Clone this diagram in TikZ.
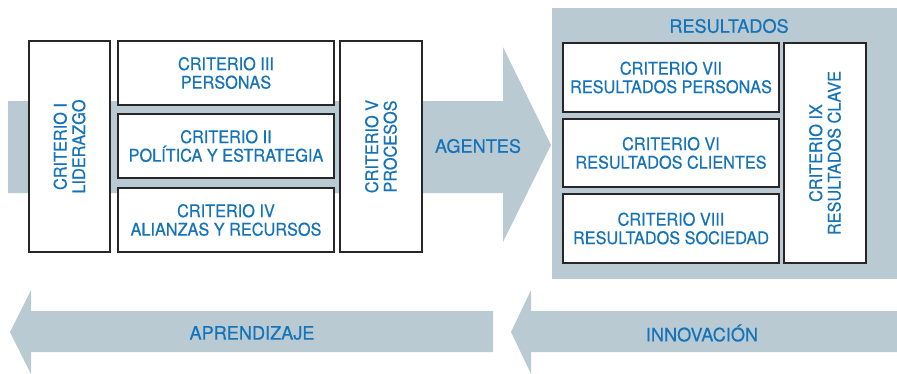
\documentclass[tikz,border=0pt]{standalone}
\usepackage{fontspec}
\setmainfont{TeX Gyre Heros}
\newfontfamily\cajafont[FakeStretch=0.93,FakeBold=0.4]{TeX Gyre Heros}
\newfontfamily\rotulofont[FakeStretch=0.98,FakeBold=0.4]{TeX Gyre Heros}
\definecolor{flecha}{RGB}{185,202,211}
\definecolor{azul}{RGB}{20,115,185}
\definecolor{borde}{RGB}{40,38,40}
\begin{document}
\begin{tikzpicture}[x=1pt,y=-1pt,
  caja/.style={draw=borde,line width=1.5pt,fill=white,text=azul,align=center,inner sep=0pt,font=\cajafont\fontsize{17.5}{18.5}\selectfont},
  rotulo/.style={text=azul,font=\rotulofont\fontsize{18.5}{20}\selectfont}]
\useasboundingbox (0,0) rectangle (897,373);
% flechas y fondo
\fill[flecha] (8,101) -- (503,101) -- (503,47) -- (551,145) -- (503,242) -- (503,193) -- (8,193) -- cycle;
\fill[flecha] (552,8) rectangle (897,279);
\fill[flecha] (493,311) -- (31,311) -- (31,290) -- (10,332) -- (31,374) -- (31,352) -- (493,352) -- cycle;
\fill[flecha] (897,311) -- (531,311) -- (531,290) -- (511,332) -- (531,374) -- (531,352) -- (897,352) -- cycle;
% agentes
\node[caja,rotate=90,minimum width=211,minimum height=81] (c1) at (69.5,146.5) {CRITERIO I\\LIDERAZGO};
\node[caja,minimum width=216,minimum height=64] (c3) at (226,73) {CRITERIO III\\PERSONAS};
\node[caja,minimum width=216,minimum height=64] (c2) at (226,146) {CRITERIO II\\POLÍTICA Y ESTRATEGIA};
\node[caja,minimum width=216,minimum height=64] (c4) at (226,220) {CRITERIO IV\\ALIANZAS Y RECURSOS};
\node[caja,rotate=90,minimum width=211,minimum height=82] (c5) at (381,146.5) {CRITERIO V\\PROCESOS};
% resultados
\node[caja,minimum width=216,minimum height=69] (c7) at (671,77.5) {CRITERIO VII\\RESULTADOS PERSONAS};
\node[caja,minimum width=216,minimum height=68] (c6) at (671,153) {CRITERIO VI\\RESULTADOS CLIENTES};
\node[caja,minimum width=216,minimum height=69] (c8) at (671,228.5) {CRITERIO VIII\\RESULTADOS SOCIEDAD};
\node[caja,rotate=90,minimum width=220,minimum height=82] (c9) at (825,153) {CRITERIO IX\\RESULTADOS CLAVE};
% rotulos
\node[rotulo] (agentes) at (478,146) {AGENTES};
\node[rotulo] (resultados) at (729,26) {RESULTADOS};
\node[rotulo] (aprendizaje) at (252,333) {APRENDIZAJE};
\node[rotulo] (innovacion) at (702,333) {INNOVACIÓN};
\end{tikzpicture}
\end{document}
